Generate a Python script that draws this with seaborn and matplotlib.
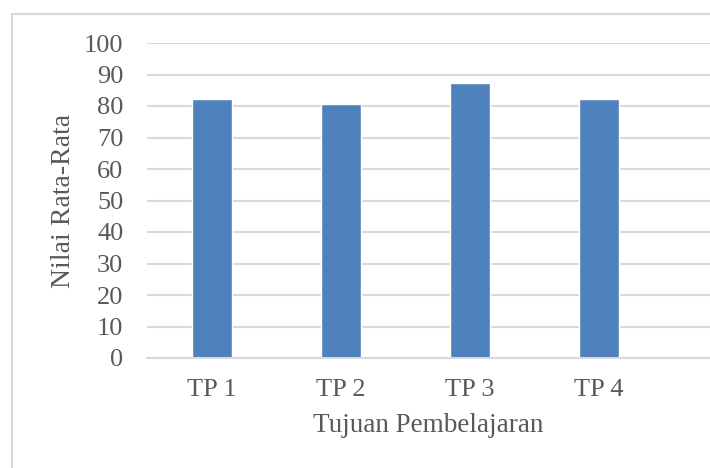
import matplotlib
matplotlib.use("Agg")
import matplotlib.pyplot as plt
import seaborn as sns
import pandas as pd
from matplotlib.patches import Rectangle

# data
categories = ["TP 1", "TP 2", "TP 3", "TP 4"]
values = [82.1, 80.6, 87.3, 82.3]
y_ticks = list(range(0, 101, 10))

df = pd.DataFrame({"tp": categories, "nilai": values})

sns.set_theme(style="white")
plt.rcParams["font.family"] = ["Liberation Serif", "DejaVu Serif"]

text_color = "#595959"
grid_color = "#d9d9d9"
bar_color = "#4f81bd"

fig = plt.figure(figsize=(7.1, 4.68), dpi=100)
ax = fig.add_axes([147 / 710, 1 - 358 / 468, 1 - 147 / 710, (358 - 43) / 468])

sns.barplot(data=df, x="tp", y="nilai", color=bar_color, width=0.31,
            saturation=1, ax=ax, zorder=3)

ax.set_ylim(0, 100)
ax.set_xlim(-0.5, 3.86)
ax.set_yticks(y_ticks)
ax.yaxis.grid(True, color=grid_color, linewidth=1.5, zorder=0)
ax.set_axisbelow(True)
for s in ["top", "right", "left"]:
    ax.spines[s].set_visible(False)
ax.spines["bottom"].set_color(grid_color)
ax.spines["bottom"].set_linewidth(1.5)
ax.spines["bottom"].set_zorder(4)

ax.tick_params(axis="y", length=0, pad=17, labelsize=19, labelcolor=text_color)
ax.tick_params(axis="x", length=0, pad=15, labelsize=19, labelcolor=text_color)

ax.set_xlabel("Tujuan Pembelajaran", fontsize=19.5, color=text_color, labelpad=9)
ax.set_ylabel("Nilai Rata-Rata", fontsize=20, color=text_color, labelpad=6)

# outer chart frame (cut off on the right and bottom)
fig.patches.append(Rectangle((12 / 710, -0.1), 1.2, 1 - 14 / 468 + 0.1,
                             transform=fig.transFigure, fill=False,
                             edgecolor=grid_color, linewidth=1.5))

fig.savefig("out.png", dpi=100)
